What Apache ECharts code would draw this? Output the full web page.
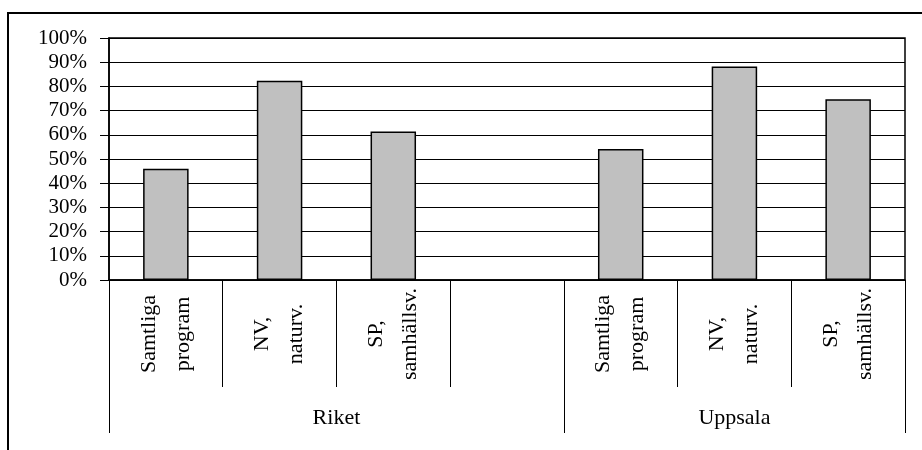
<!DOCTYPE html>
<html>
<head>
<meta charset="utf-8">
<script src="https://cdn.jsdelivr.net/npm/echarts@6/dist/echarts.min.js"></script>
<style>html,body{margin:0;padding:0;background:#fff}#c{width:922px;height:450px}</style>
</head>
<body>
<div id="c"></div>
<script>
var categories = ['Samtliga\nprogram', 'NV,\nnaturv.', 'SP,\nsamhällsv.', '', 'Samtliga\nprogram', 'NV,\nnaturv.', 'SP,\nsamhällsv.'];
var values = [0.46, 0.823, 0.614, null, 0.541, 0.882, 0.747];
var groups = ['Riket', 'Uppsala'];
var groupSpans = [4, 3];
var yTicks = [0, 0.1, 0.2, 0.3, 0.4, 0.5, 0.6, 0.7, 0.8, 0.9, 1.0];

var FONT = 'Liberation Serif, Times New Roman, serif';

// group boundaries and centers from spans
var groupStarts = [], groupCenters = [], acc = 0;
groupSpans.forEach(function (s) { groupStarts.push(acc); groupCenters.push(acc + s / 2); acc += s; });

var chart = echarts.init(document.getElementById('c'), null, { renderer: 'canvas' });
chart.setOption({
  animation: false,
  backgroundColor: '#fff',
  graphic: [{
    type: 'rect', silent: true, z: 100,
    shape: { x: 8, y: 13, width: 930, height: 460 },
    style: { fill: 'none', stroke: '#000', lineWidth: 2 }
  }],
  grid: { left: 109, top: 38, right: 17, bottom: 170, show: true, borderColor: '#000', borderWidth: 1.5, backgroundColor: '#fff' },
  xAxis: [{
    type: 'category', data: categories, position: 'bottom',
    axisLine: { show: true, lineStyle: { color: '#000', width: 1.5 } },
    axisTick: { show: true, interval: 0, length: 107, lineStyle: { color: '#000', width: 1 } },
    axisLabel: {
      interval: 0, rotate: 90, align: 'center', verticalAlign: 'middle', margin: 54,
      lineHeight: 34, fontFamily: FONT, fontSize: 22, color: '#000'
    },
    splitLine: { show: false }
  }, {
    type: 'category', data: categories, position: 'bottom',
    axisLine: { show: false },
    axisTick: {
      show: true, length: 153, lineStyle: { color: '#000', width: 1 },
      interval: function (idx) { return groupStarts.indexOf(idx) >= 0; }
    },
    axisLabel: { show: false },
    splitLine: { show: false }
  }, {
    type: 'value', position: 'bottom', min: 0, max: categories.length, interval: 0.5,
    axisLine: { show: false }, axisTick: { show: false }, splitLine: { show: false },
    axisLabel: {
      margin: 127, fontFamily: FONT, fontSize: 22, color: '#000', showMinLabel: true, showMaxLabel: true,
      formatter: function (v) {
        for (var i = 0; i < groupCenters.length; i++) { if (Math.abs(groupCenters[i] - v) < 1e-6) return groups[i]; }
        return '';
      }
    }
  }],
  yAxis: {
    type: 'value', min: 0, max: 1, interval: 0.1,
    axisLine: { show: true, lineStyle: { color: '#000', width: 1.5 } },
    axisTick: { show: true, length: 9, lineStyle: { color: '#000' } },
    axisLabel: {
      margin: 22, fontFamily: FONT, fontSize: 21, color: '#000',
      formatter: function (v) { return Math.round(v * 100) + '%'; }
    },
    splitLine: { show: true, lineStyle: { color: '#000', width: 1 } }
  },
  series: [{
    type: 'bar', data: values, barWidth: '40%', xAxisIndex: 0,
    itemStyle: { color: '#c0c0c0', borderColor: '#000', borderWidth: 1.5 }
  }]
});
</script>
</body>
</html>
